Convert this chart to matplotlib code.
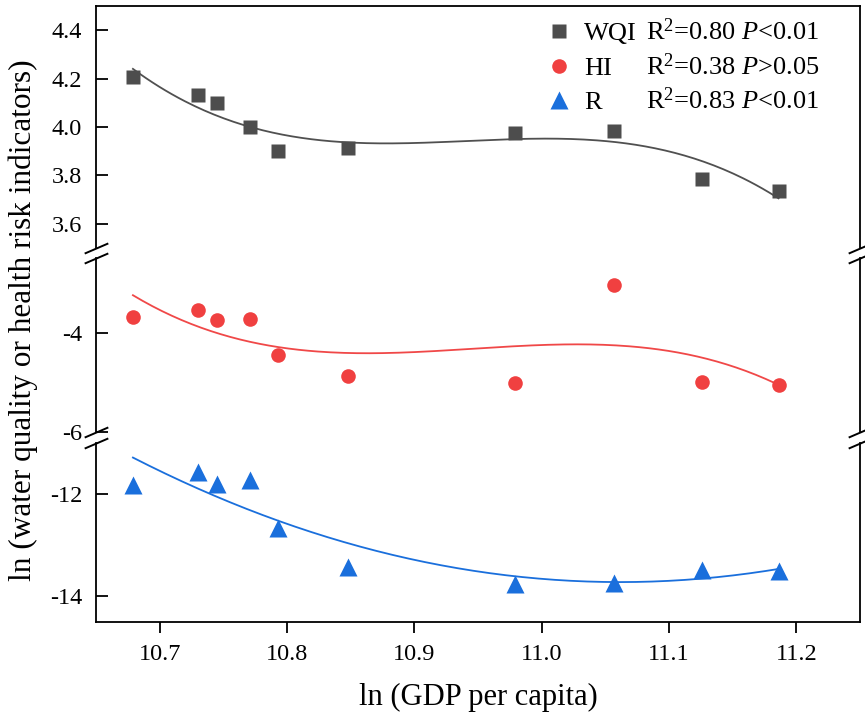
# ln GDP vs water quality / health risk indicators, broken y axis
import numpy as np
import matplotlib
matplotlib.use("Agg")
import matplotlib.pyplot as plt

plt.rcParams["font.family"] = ["Liberation Serif", "DejaVu Serif"]
plt.rcParams["mathtext.fontset"] = "custom"
plt.rcParams["mathtext.rm"] = "Liberation Serif"
plt.rcParams["mathtext.it"] = "Liberation Serif:italic"
plt.rcParams["axes.unicode_minus"] = False

# ── data ─────────────────────────────────────────────────────────────────
gdp  = [10.679, 10.730, 10.745, 10.771, 10.793, 10.848, 10.979, 11.057, 11.126, 11.186]
wqi  = [4.207, 4.131, 4.099, 3.999, 3.901, 3.913, 3.977, 3.983, 3.784, 3.734]
hi   = [-3.68, -3.54, -3.75, -3.72, -4.45, -4.87, -5.01, -3.05, -4.99, -5.05]
risk = [-11.83, -11.56, -11.80, -11.72, -12.66, -13.42, -13.75, -13.73, -13.49, -13.50]

names   = ["WQI", "HI", "R"]
r2      = ["0.80", "0.38", "0.83"]
p_text  = ["<0.01", ">0.05", "<0.01"]
fit_deg = [3, 3, 2]
# ─────────────────────────────────────────────────────────────────────────

colors  = ["#4d4d4d", "#f04040", "#1a6fdc"]
lcolors = ["#505050", "#f04848", "#1a6fdc"]
markers = ["s", "o", "^"]
msizes  = [9.5, 10.5, 12.5]
ylims   = [(3.5, 4.5), (-6, -2.5), (-14.5, -11)]
yticks  = [[3.6, 3.8, 4.0, 4.2, 4.4], [-6, -4], [-14, -12]]
yfmt    = ["%.1f", "%d", "%d"]

W, H = 865, 726
fig = plt.figure(figsize=(W / 100, H / 100), dpi=100)

# panel extents in pixels (top, bottom)
panels = [(6, 248), (258, 432), (443, 622)]
left, right = 96, 860
axes = []
for top, bot in panels:
    ax = fig.add_axes([left / W, 1 - bot / H, (right - left) / W, (bot - top) / H])
    axes.append(ax)

series = [wqi, hi, risk]
handles = []
for i, ax in enumerate(axes):
    x = np.array(gdp)
    y = np.array(series[i])
    coef = np.polyfit(x, y, fit_deg[i])
    xs = np.linspace(x.min(), x.max(), 200)
    ax.plot(xs, np.polyval(coef, xs), color=lcolors[i], lw=1.3, zorder=2)
    h, = ax.plot(x, y, linestyle="none", marker=markers[i], ms=msizes[i],
                 color=colors[i], mec="none", zorder=3, label=names[i])
    handles.append(h)

    ax.set_xlim(10.65, 11.25)
    ax.set_ylim(*ylims[i])
    ax.set_yticks(yticks[i])
    ax.yaxis.set_major_formatter(matplotlib.ticker.FormatStrFormatter(yfmt[i]))
    ax.tick_params(axis="y", direction="in", length=8.5, width=1.3, pad=10, labelsize=17.5)
    ax.tick_params(axis="x", direction="out", length=8, width=1.3, pad=8, labelsize=17.5)
    for s in ax.spines.values():
        s.set_linewidth(1.3)
    if i > 0:
        ax.spines["top"].set_visible(False)
    if i < 2:
        ax.spines["bottom"].set_visible(False)
        ax.tick_params(axis="x", bottom=False, labelbottom=False)

axes[2].set_xticks([10.7, 10.8, 10.9, 11.0, 11.1, 11.2])
axes[2].xaxis.set_major_formatter(matplotlib.ticker.FormatStrFormatter("%.1f"))
axes[2].set_xlabel("ln (GDP per capita)", fontsize=22, labelpad=13)
fig.text(0.027, 0.559, "ln (water quality or health risk indicators)",
         rotation=90, ha="center", va="center", fontsize=22.5)

# break marks
bk = dict(marker=[(-1, -0.43), (1, 0.43)], markersize=17, linestyle="none",
          color="k", mec="k", mew=1.4, clip_on=False, zorder=5)
axes[0].plot([0, 1], [0, 0], transform=axes[0].transAxes, **bk)
axes[1].plot([0, 1], [1, 1], transform=axes[1].transAxes, **bk)
axes[1].plot([0, 1], [0, 0], transform=axes[1].transAxes, **bk)
axes[2].plot([0, 1], [1, 1], transform=axes[2].transAxes, **bk)

leg = axes[0].legend(handles=handles, loc="upper left", bbox_to_anchor=(0.591, 0.935),
                     frameon=False, fontsize=19, handlelength=0.9, handletextpad=0.5,
                     labelspacing=0.42, borderpad=0, borderaxespad=0, numpoints=1)

fig.canvas.draw()
for i, t in enumerate(leg.get_texts()):
    yb = t.get_transform().transform(t.get_position())[1]
    fig.text(646 / W, yb / H, "R$^{2}$=" + r2[i] + " $P$" + p_text[i],
             ha="left", va="baseline", fontsize=19)

fig.savefig("out.png", dpi=100)
